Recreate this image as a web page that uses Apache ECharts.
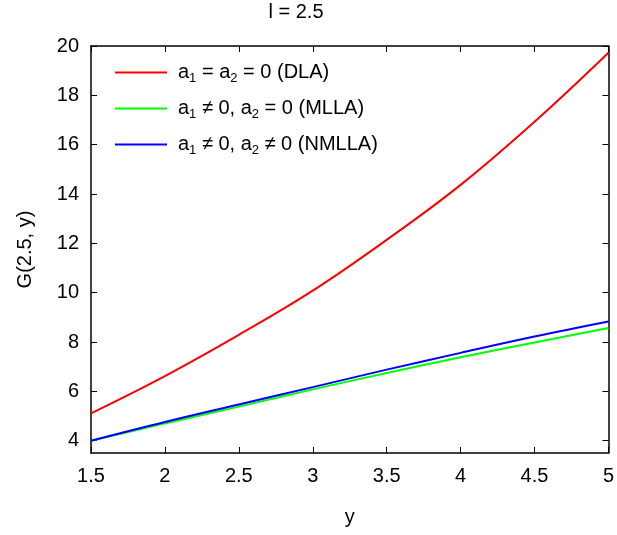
<!DOCTYPE html>
<html>
<head>
<meta charset="utf-8">
<script src="https://cdn.jsdelivr.net/npm/echarts@6/dist/echarts.min.js"></script>
<style>html,body{margin:0;padding:0;background:#fff}#c{width:617px;height:535px}</style>
</head>
<body>
<div id="c"></div>
<script>
const xs = [1.5, 2, 2.5, 3, 3.5, 4, 4.5, 5];
const dla = [5.11, 6.62, 8.29, 10.08, 12.14, 14.37, 16.93, 19.73];
const mlla = [4.0, 4.70, 5.38, 6.08, 6.74, 7.38, 7.98, 8.57];
const nmlla = [4.0, 4.76, 5.47, 6.17, 6.88, 7.56, 8.22, 8.83];
const yTicks = [4, 6, 8, 10, 12, 14, 16, 18, 20];
const names = ['DLA', 'MLLA', 'NMLLA'];
const labels = {
  DLA: 'a{sub|1} = a{sub|2} = 0 (DLA)',
  MLLA: 'a{sub|1} \u2260 0, a{sub|2} = 0 (MLLA)',
  NMLLA: 'a{sub|1} \u2260 0, a{sub|2} \u2260 0 (NMLLA)'
};
const FONT = 'Liberation Sans';
const FS = 20;
const pts = arr => xs.map((x, i) => [x, arr[i]]);
const chart = echarts.init(document.getElementById('c'), null, {renderer: 'canvas'});
const axisLine = {show: true, lineStyle: {color: '#000', width: 1.5}};
const tickIn = {show: true, inside: true, length: 6, lineStyle: {color: '#000', width: 1}};
const mkSeries = (name, data, color) => ({
  name, type: 'line', data: pts(data), smooth: 0.4, symbol: 'none',
  lineStyle: {color, width: 2}, itemStyle: {color}, xAxisIndex: 0, yAxisIndex: 0
});
chart.setOption({
  animation: false,
  backgroundColor: '#fff',
  title: {text: 'l = 2.5', left: 296, top: 2, padding: 0, textAlign: 'center',
    textStyle: {fontFamily: FONT, fontSize: FS, fontWeight: 'normal', color: '#000'}},
  grid: {left: 91, right: 7, top: 46, bottom: 82, containLabel: false},
  legend: {
    orient: 'vertical', left: 115, top: 60, padding: 0, itemWidth: 52, itemHeight: 2, itemGap: 11,
    icon: 'rect',
    data: names,
    formatter: n => labels[n],
    textStyle: {fontFamily: FONT, fontSize: FS, color: '#000', padding: [0, 0, 0, 6], lineHeight: 24,
      rich: {sub: {fontFamily: FONT, fontSize: 13, color: '#000', lineHeight: 24, padding: [12, 0, 0, 0]}}}
  },
  xAxis: [
    {type: 'value', min: 1.5, max: 5, interval: 0.5, position: 'bottom',
      name: 'y', nameLocation: 'middle', nameGap: 54,
      nameTextStyle: {fontFamily: FONT, fontSize: FS, color: '#000'},
      axisLine, axisTick: tickIn, splitLine: {show: false},
      axisLabel: {fontFamily: FONT, fontSize: FS, color: '#000', margin: 13}},
    {type: 'value', min: 1.5, max: 5, interval: 0.5, position: 'top',
      axisLine, axisTick: tickIn, splitLine: {show: false}, axisLabel: {show: false}}
  ],
  yAxis: [
    {type: 'value', min: 3.5, max: 20, position: 'left',
      name: 'G(2.5, y)', nameLocation: 'middle', nameGap: 56, nameRotate: 90,
      nameTextStyle: {fontFamily: FONT, fontSize: FS, color: '#000'},
      axisLine, splitLine: {show: false},
      axisTick: Object.assign({customValues: yTicks}, tickIn),
      axisLabel: {customValues: yTicks, fontFamily: FONT, fontSize: FS, color: '#000', margin: 12}},
    {type: 'value', min: 3.5, max: 20, position: 'right',
      axisLine, splitLine: {show: false},
      axisTick: Object.assign({customValues: yTicks}, tickIn),
      axisLabel: {show: false}}
  ],
  series: [
    mkSeries('DLA', dla, '#ff0000'),
    mkSeries('MLLA', mlla, '#00ff00'),
    mkSeries('NMLLA', nmlla, '#0000ff')
  ]
});
</script>
</body>
</html>
